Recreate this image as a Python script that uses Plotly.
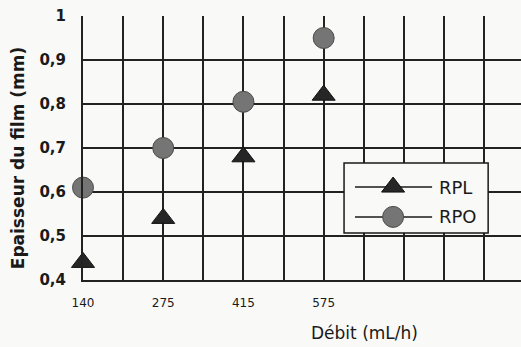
import plotly.graph_objects as go

# Débit categories and measured film thickness (mm)
debit = ["140", "275", "415", "575"]
rpl = [0.44, 0.54, 0.68, 0.82]
rpo = [0.61, 0.70, 0.805, 0.95]

y_ticks = [0.4, 0.5, 0.6, 0.7, 0.8, 0.9, 1.0]

FONT = "DejaVu Sans"
INK = "#1a1a1a"
BG = "#f9f9f7"
GRID = "#222222"

xpos = list(range(len(debit)))
XMAX = 5.46

fig = go.Figure()

fig.add_trace(go.Scatter(
    x=xpos, y=rpl, mode="markers", name="RPL", showlegend=False,
    marker=dict(symbol="triangle-up", size=20, color="#262626",
                line=dict(color="#111111", width=1)),
    cliponaxis=False,
))
fig.add_trace(go.Scatter(
    x=xpos, y=rpo, mode="markers", name="RPO", showlegend=False,
    marker=dict(symbol="circle", size=21, color="#757575",
                line=dict(color="#4a4a4a", width=1)),
    cliponaxis=False,
))

# Hand-built legend box (paper fractions -> data coordinates)
def px(u):
    return u * XMAX

def py(v):
    return 0.4 + v * 0.6

box = dict(x0=0.596, x1=0.925, y0=0.178, y1=0.443)
rows = [("RPL", 0.352, "triangle-up", 20, "#262626", "#111111"),
        ("RPO", 0.239, "circle", 21, "#757575", "#4a4a4a")]

fig.add_shape(type="rect", xref="x", yref="y",
              x0=px(box["x0"]), x1=px(box["x1"]),
              y0=py(box["y0"]), y1=py(box["y1"]),
              fillcolor=BG, line=dict(color=INK, width=1.5), layer="between")

for label, yy, sym, sz, fc, lc in rows:
    fig.add_shape(type="line", xref="x", yref="y",
                  x0=px(0.621), x1=px(0.797), y0=py(yy), y1=py(yy),
                  line=dict(color=INK, width=1.5), layer="between")
    fig.add_trace(go.Scatter(
        x=[px(0.708)], y=[py(yy)], mode="markers", showlegend=False,
        hoverinfo="skip",
        marker=dict(symbol=sym, size=sz, color=fc, line=dict(color=lc, width=1)),
    ))
    fig.add_annotation(x=px(0.808), y=py(yy), xref="x", yref="y",
                       text=label, showarrow=False, xanchor="left",
                       font=dict(family=FONT, size=18, color=INK))

fig.update_layout(
    width=521, height=347,
    margin=dict(l=83, r=0, t=16, b=67),
    paper_bgcolor=BG, plot_bgcolor=BG,
    separators=", ",
    showlegend=False,
    xaxis=dict(
        range=[0, XMAX], tickmode="array", tickvals=xpos, ticktext=debit,
        showgrid=True, gridcolor=GRID, gridwidth=2,
        minor=dict(dtick=0.5, tick0=0, showgrid=True, gridcolor=GRID, gridwidth=2),
        showline=True, linecolor=GRID, linewidth=2,
        zeroline=False, ticks="", ticklabelstandoff=11,
        tickfont=dict(family=FONT, size=12, color=INK),
    ),
    yaxis=dict(
        range=[0.4, 1.0], tickmode="array", tickvals=y_ticks,
        showgrid=True, gridcolor=GRID, gridwidth=2,
        showline=True, linecolor=GRID, linewidth=2,
        zeroline=False, ticks="", ticklabelstandoff=12,
        tickfont=dict(family=FONT, size=15, color=INK, weight="bold"),
    ),
)

fig.add_annotation(x=0.642, y=-0.2, xref="paper", yref="paper",
                   text="Débit (mL/h)", showarrow=False, yanchor="middle",
                   font=dict(family=FONT, size=17, color=INK))
fig.add_annotation(x=-0.148, y=0.462, xref="paper", yref="paper",
                   text="Epaisseur du film (mm)", showarrow=False, textangle=-90,
                   xanchor="center", yanchor="middle",
                   font=dict(family=FONT, size=17, color=INK, weight="bold"))

fig.write_html("out.html")
